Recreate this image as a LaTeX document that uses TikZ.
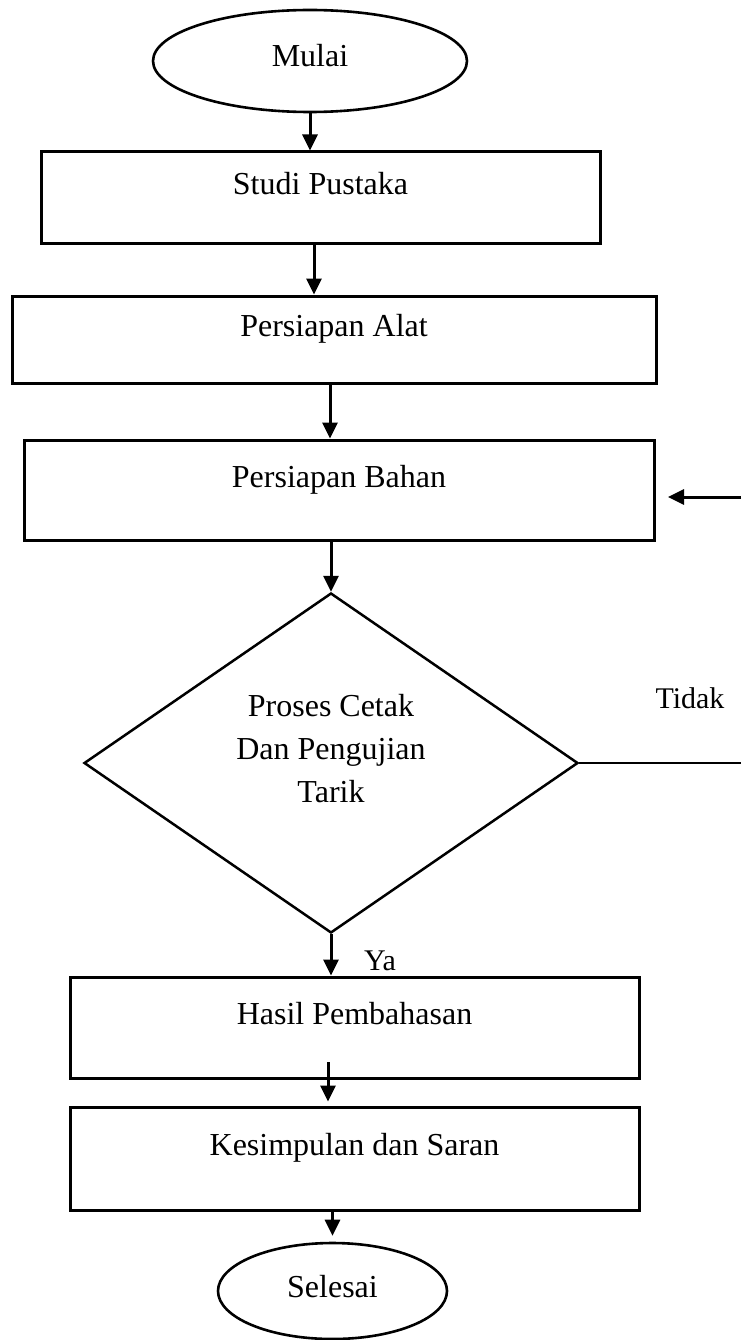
\documentclass[tikz,border=0pt]{standalone}
\usepackage{fontspec}
\setmainfont{Liberation Serif}
\usetikzlibrary{arrows.meta, shapes.geometric}
\tikzstyle{pbox}=[rectangle, draw=black, line width=3pt, inner sep=0pt,
  font=\fontsize{32}{43}\selectfont, text height=22pt, text depth=28pt]
\tikzstyle{tbox}=[ellipse, draw=black, line width=2.6pt, inner sep=0pt,
  font=\fontsize{32}{43}\selectfont, text height=22pt, text depth=10pt]
\tikzstyle{dbox}=[diamond, draw=black, line width=2.5pt, inner sep=0pt,
  minimum width=494pt, minimum height=340pt]
\tikzstyle{barr}=[-{Triangle[length=16pt, width=15pt]}, line width=3pt]
\tikzstyle{lbl}=[font=\fontsize{30}{36}\selectfont, anchor=base, inner sep=0pt]

\begin{document}
\begin{tikzpicture}[x=1pt, y=-1pt]
        \useasboundingbox (0,0) rectangle (741,1340);
        \node[tbox, minimum width=314pt, minimum height=102pt]
          (mulai) at (310,61) {Mulai};
        \node[pbox, minimum width=559pt, minimum height=92pt]
          (studi) at (320.5,198) {Studi Pustaka};
        \node[pbox, minimum width=644pt, minimum height=87pt]
          (alat) at (334,339.5) {Persiapan Alat};
        \node[pbox, minimum width=630pt, minimum height=100pt]
          (bahan) at (339,490) {Persiapan Bahan};
        \node[dbox, label={[font=\fontsize{32}{43}\selectfont, align=center,
          yshift=14pt]center:Proses Cetak\\Dan Pengujian\\Tarik}]
          (uji) at (331,763) {};
        \node[pbox, minimum width=569pt, minimum height=101pt]
          (hasil) at (354.5,1027.5) {Hasil Pembahasan};
        \node[pbox, minimum width=569pt, minimum height=103pt]
          (simpul) at (354.5,1158.5) {Kesimpulan dan Saran};
        \node[tbox, minimum width=229pt, minimum height=96pt]
          (selesai) at (332.5,1291) {Selesai};
        \coordinate (tk) at (741,763);
        \coordinate (ka) at (741,497);
        \coordinate (kb) at (668,497);
        \coordinate (hs) at (328,1062);
        \draw[barr] (mulai.south) -- (mulai.south |- studi.north);
        \draw[barr] ([xshift=-6.5pt]studi.south) -- ([xshift=-6.5pt]studi.south |- alat.north);
        \draw[barr] ([xshift=-4pt]alat.south) -- ([xshift=-4pt]alat.south |- bahan.north);
        \draw[barr] (bahan.south -| uji.north) -- (uji.north);
        \draw[barr] (uji.south) -- (uji.south |- hasil.north);
        \draw[barr] (hs) -- ([yshift=4pt]hs |- simpul.north);
        \draw[barr] (simpul.south -| selesai.north) -- ([yshift=6pt]selesai.north);
        \draw[line width=2.5pt] (uji.east) -- (tk);
        \draw[barr] (ka) -- (kb);
        \node[lbl] (tidak) at (690,708) {Tidak};
        \node[lbl] (ya) at (380,970) {Ya};
      \end{tikzpicture}
\end{document}
